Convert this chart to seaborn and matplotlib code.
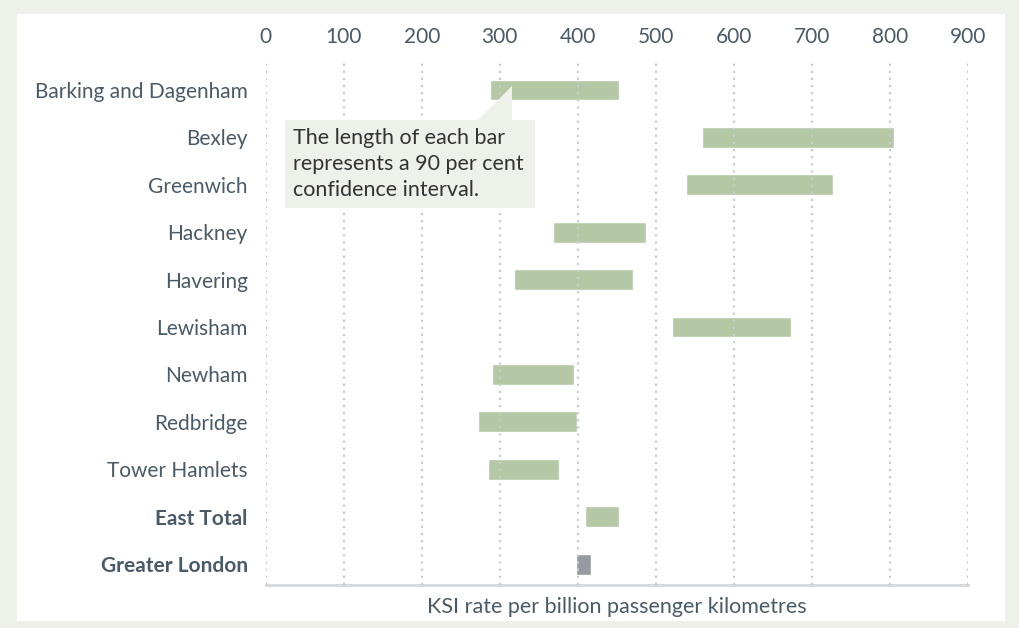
import matplotlib
matplotlib.use("Agg")
import matplotlib.pyplot as plt
import seaborn as sns
import pandas as pd
from matplotlib.patches import Rectangle, Polygon

categories = ["Barking and Dagenham", "Bexley", "Greenwich", "Hackney", "Havering",
              "Lewisham", "Newham", "Redbridge", "Tower Hamlets", "East Total", "Greater London"]
low = [287, 559, 539, 368, 318, 521, 290, 272, 285, 409, 398]
high = [453, 806, 727, 488, 471, 673, 395, 399, 376, 453, 417]
x_ticks = [0, 100, 200, 300, 400, 500, 600, 700, 800, 900]

df = pd.DataFrame({"cat": categories, "low": low, "high": high})
df["span"] = df["high"] - df["low"]

W, H = 1020, 628
BG = "#eef0ea"
GREEN = "#b5c8a5"
GREY = "#979ba1"
TXT = "#4a5a66"

sns.set_theme(style="white")
plt.rcParams["font.family"] = ["Lato", "DejaVu Sans"]

fig = plt.figure(figsize=(W / 100, H / 100), dpi=100, facecolor=BG)
fig.add_artist(Rectangle((17 / W, 1 - 621 / H), (1005 - 17) / W, (621 - 14) / H,
                         transform=fig.transFigure, facecolor="white", edgecolor="none", zorder=0))

ax = fig.add_axes([265.7 / W, 1 - 585 / H, 702 / W, 523 / H])
ax.set_facecolor("none")

sns.barplot(data=df, x="span", y="cat", color=GREEN, left=df["low"].values,
            width=0.44, saturation=1, ax=ax, orient="h")
for p, c in zip(ax.patches, categories):
    if c == "Greater London":
        p.set_facecolor(GREY)

ax.set_xlim(0, 900)
ax.set_ylim(10.44, -0.59)
ax.set_xticks(x_ticks)
ax.xaxis.tick_top()
ax.tick_params(axis="x", length=0, pad=11, labelsize=15, labelcolor=TXT)
ax.tick_params(axis="y", length=0, pad=13, labelsize=15, labelcolor=TXT)
for lab in ax.get_yticklabels():
    if lab.get_text() in ("East Total", "Greater London"):
        lab.set_fontweight("bold")
ax.set_ylabel("")
ax.set_xlabel("")
ax.set_axisbelow(False)
ax.grid(axis="x", color="#c9cccf", linestyle=(0, (1, 2.2)), linewidth=1.6)
ax.grid(axis="y", visible=False)
for s in ["top", "left", "right"]:
    ax.spines[s].set_visible(False)
ax.spines["bottom"].set_color("#d3d7db")
ax.spines["bottom"].set_linewidth(2)

fig.text(616.7 / W, 1 - 607 / H, "KSI rate per billion passenger kilometres",
         ha="center", va="center", fontsize=15.5, color=TXT)

# annotation callout
fig.add_artist(Rectangle((285 / W, 1 - 208 / H), 250 / W, 88 / H, transform=fig.transFigure,
                         facecolor=BG, edgecolor="none", zorder=5))
fig.add_artist(Polygon([(477 / W, 1 - 121 / H), (512 / W, 1 - 121 / H), (512 / W, 1 - 86 / H)],
                       closed=True, transform=fig.transFigure, facecolor=BG, edgecolor="none", zorder=5))
fig.text(293 / W, 1 - 164 / H, "The length of each bar\nrepresents a 90 per cent\nconfidence interval.",
         ha="left", va="center", fontsize=15.5, color="#333333", linespacing=1.4, zorder=6)

fig.savefig("out.png", dpi=100, facecolor=BG)
